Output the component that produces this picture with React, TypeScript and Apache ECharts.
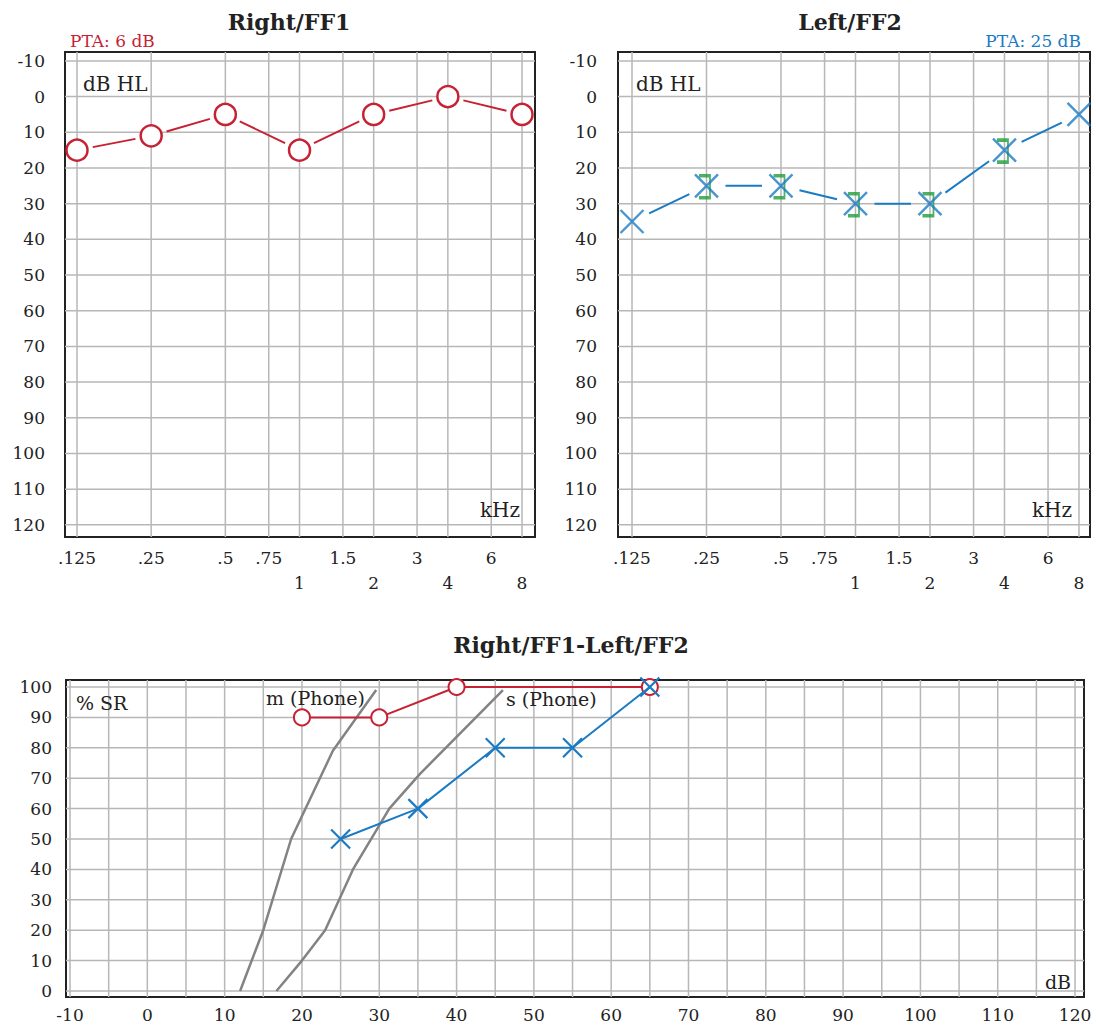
import React, { useEffect, useRef } from 'react';
import * as echarts from 'echarts';

// ---------- data ----------
const freqTicks = [0.125, 0.25, 0.5, 0.75, 1, 1.5, 2, 3, 4, 6, 8];
const freqTickLabels = ['.125', '.25', '.5', '.75', '1', '1.5', '2', '3', '4', '6', '8'];
const lowerRowFreqs = [1, 2, 4, 8];
const dbHLTicks = [-10, 0, 10, 20, 30, 40, 50, 60, 70, 80, 90, 100, 110, 120];

const testFreqs = [0.125, 0.25, 0.5, 1, 2, 4, 8];
const rightThresholds = [15, 11, 5, 15, 5, 0, 5];
const leftThresholds = [35, 25, 25, 30, 30, 15, 5];
const leftMaskFreqs = [0.25, 0.5, 1, 2, 4];
const leftMaskThresholds = [25, 25, 30, 30, 15];

const speechDbTicks = [-10, 0, 10, 20, 30, 40, 50, 60, 70, 80, 90, 100, 110, 120];
const speechDbGrid = [-10, -5, 0, 5, 10, 15, 20, 25, 30, 35, 40, 45, 50, 55, 60, 65, 70, 75, 80, 85, 90, 95, 100, 105, 110, 115, 120];
const speechPctTicks = [0, 10, 20, 30, 40, 50, 60, 70, 80, 90, 100];

const rightSpeechDb = [20, 30, 40, 65];
const rightSpeechPct = [90, 90, 100, 100];
const leftSpeechDb = [25, 35, 45, 55, 65];
const leftSpeechPct = [50, 60, 80, 80, 100];

const mCurveDb = [12, 15, 18.6, 24, 29.6];
const mCurvePct = [0, 20, 50, 79, 99];
const sCurveDb = [16.7, 20, 23, 26.6, 31.3, 35.3, 46];
const sCurvePct = [0, 10, 20, 40, 60, 71.5, 99];

// ---------- styles ----------
const FONT = "'DejaVu Serif', 'Liberation Serif', serif";
const TEXT = '#222';
const RED = '#c62234';
const BLUE = '#1a7bc4';
const GREEN = '#1f9e3c';
const GRAYLINE = '#838383';
const GRID = '#b7b7b7';

const xPath = 'path://M0,0L10,10M10,0L0,10';
const bracketPath = 'path://M0,0L10,0L10,20L0,20';

function hGrid(idx: number, values: number[], xRef: number) {
  return {
    type: 'custom',
    xAxisIndex: idx,
    yAxisIndex: idx,
    z: 1,
    silent: true,
    data: values.map((v) => [xRef, v]),
    renderItem: (params: any, api: any) => {
      const cs = params.coordSys;
      const y = api.coord([xRef, api.value(1)])[1];
      return {
        type: 'line',
        shape: { x1: cs.x, y1: y, x2: cs.x + cs.width, y2: y },
        style: { stroke: GRID, lineWidth: 1.5 },
      };
    },
  };
}

function vGrid(idx: number, values: number[], yRef: number) {
  return {
    type: 'custom',
    xAxisIndex: idx,
    yAxisIndex: idx,
    z: 1,
    silent: true,
    data: values.map((v) => [v, yRef]),
    renderItem: (params: any, api: any) => {
      const cs = params.coordSys;
      const x = api.coord([api.value(0), yRef])[0];
      return {
        type: 'line',
        shape: { x1: x, y1: cs.y, x2: x, y2: cs.y + cs.height },
        style: { stroke: GRID, lineWidth: 1.5 },
      };
    },
  };
}

function gapLine(idx: number, xs: number[], ys: number[], color: string, gap: number) {
  const data: number[][] = [];
  for (let i = 0; i < xs.length - 1; i++) {
    data.push([Math.log2(xs[i]), ys[i], Math.log2(xs[i + 1]), ys[i + 1]]);
  }
  return {
    type: 'custom',
    xAxisIndex: idx,
    yAxisIndex: idx,
    z: 3,
    silent: true,
    data,
    renderItem: (params: any, api: any) => {
      const p1 = api.coord([api.value(0), api.value(1)]);
      const p2 = api.coord([api.value(2), api.value(3)]);
      const dx = p2[0] - p1[0];
      const dy = p2[1] - p1[1];
      const L = Math.sqrt(dx * dx + dy * dy);
      const g = gap / L;
      return {
        type: 'line',
        shape: { x1: p1[0] + dx * g, y1: p1[1] + dy * g, x2: p2[0] - dx * g, y2: p2[1] - dy * g },
        style: { stroke: color, lineWidth: 2 },
      };
    },
  };
}

const topXFormatter = (v: number) => {
  const i = freqTicks.findIndex((f) => Math.abs(Math.log2(f) - v) < 1e-6);
  if (i < 0) return '';
  return lowerRowFreqs.includes(freqTicks[i]) ? '\n' + freqTickLabels[i] : freqTickLabels[i];
};

const tickLabel = (extra: any) => ({
  fontFamily: FONT,
  fontSize: 17,
  color: TEXT,
  ...extra,
});

function txt(text: string, x: number, y: number, size: number, color: string, align: string, bold = false) {
  return {
    type: 'text',
    x,
    y,
    z: 100,
    silent: true,
    style: {
      text,
      font: `${bold ? 'bold ' : ''}${size}px ${FONT}`,
      fill: color,
      textAlign: align,
      align,
      textVerticalAlign: 'middle',
      verticalAlign: 'middle',
    },
  };
}

const gridBox = { show: true, borderColor: '#222', borderWidth: 2, backgroundColor: 'transparent' };

const topXAxis = (idx: number, min: number, max: number) => ({
  gridIndex: idx,
  type: 'value',
  min,
  max,
  axisLine: { show: false },
  axisTick: { show: false },
  splitLine: { show: false },
  axisLabel: tickLabel({
    customValues: freqTicks.map((f) => Math.log2(f)),
    formatter: topXFormatter,
    margin: 8,
    lineHeight: 25,
  }),
});

const topYAxis = (idx: number, margin: number) => ({
  gridIndex: idx,
  type: 'value',
  inverse: true,
  min: -12.5,
  max: 123.4,
  axisLine: { show: false },
  axisTick: { show: false },
  splitLine: { show: false },
  axisLabel: tickLabel({
    customValues: dbHLTicks,
    formatter: (v: number) => String(Math.round(v)),
    margin,
  }),
});

const option: any = {
  animation: false,
  backgroundColor: '#fff',
  grid: [
    { ...gridBox, left: 65, top: 52, width: 470, height: 485 },
    { ...gridBox, left: 618, top: 52, width: 472, height: 485 },
    { ...gridBox, left: 66, top: 680, width: 1018, height: 317 },
  ],
  xAxis: [
    topXAxis(0, -3.162, 3.175),
    topXAxis(1, -3.188, 3.148),
    {
      gridIndex: 2,
      type: 'value',
      min: -10.52,
      max: 121.16,
      axisLine: { show: false },
      axisTick: { show: false },
      splitLine: { show: false },
      axisLabel: tickLabel({
        customValues: speechDbTicks,
        formatter: (v: number) => String(Math.round(v)),
        margin: 8,
        lineHeight: 20,
      }),
    },
  ],
  yAxis: [
    topYAxis(0, 20),
    topYAxis(1, 21),
    {
      gridIndex: 2,
      type: 'value',
      min: -1.97,
      max: 102.3,
      axisLine: { show: false },
      axisTick: { show: false },
      splitLine: { show: false },
      axisLabel: tickLabel({
        customValues: speechPctTicks,
        formatter: (v: number) => String(Math.round(v)),
        margin: 14,
      }),
    },
  ],
  graphic: [
    txt('Right/FF1', 289, 22, 22, TEXT, 'center', true),
    txt('Left/FF2', 850, 22, 22, TEXT, 'center', true),
    txt('Right/FF1-Left/FF2', 571, 645, 22, TEXT, 'center', true),
    txt('PTA: 6 dB', 70, 41, 17, RED, 'left'),
    txt('PTA: 25 dB', 1081, 41, 17, BLUE, 'right'),
    txt('dB HL', 83, 84, 20, TEXT, 'left'),
    txt('dB HL', 636, 84, 20, TEXT, 'left'),
    txt('kHz', 520, 510, 20, TEXT, 'right'),
    txt('kHz', 1072, 510, 20, TEXT, 'right'),
    txt('% SR', 76, 703, 19, TEXT, 'left'),
    txt('m (Phone)', 266, 698, 19, TEXT, 'left'),
    txt('s (Phone)', 506, 699, 19, TEXT, 'left'),
    txt('dB', 1071, 982, 19, TEXT, 'right'),
  ],
  series: [
    // grid lines
    hGrid(0, dbHLTicks, 0),
    vGrid(0, freqTicks.map((f) => Math.log2(f)), 50),
    hGrid(1, dbHLTicks, 0),
    vGrid(1, freqTicks.map((f) => Math.log2(f)), 50),
    hGrid(2, speechPctTicks, 50),
    vGrid(2, speechDbGrid, 50),

    // right ear audiogram
    gapLine(0, testFreqs, rightThresholds, RED, 16),
    {
      type: 'scatter',
      xAxisIndex: 0,
      yAxisIndex: 0,
      z: 4,
      symbol: 'circle',
      symbolSize: 21,
      itemStyle: { color: '#fff', borderColor: RED, borderWidth: 2.5, opacity: 1 },
      data: testFreqs.map((f, i) => [Math.log2(f), rightThresholds[i]]),
    },

    // left ear audiogram
    gapLine(1, testFreqs, leftThresholds, BLUE, 19),
    {
      type: 'scatter',
      xAxisIndex: 1,
      yAxisIndex: 1,
      z: 4,
      symbol: bracketPath,
      symbolSize: [11, 22],
      symbolOffset: [-2, 1],
      itemStyle: { color: 'rgba(0,0,0,0)', borderColor: GREEN, borderWidth: 2.5 },
      data: leftMaskFreqs.map((f, i) => [Math.log2(f), leftMaskThresholds[i]]),
    },
    {
      type: 'scatter',
      xAxisIndex: 1,
      yAxisIndex: 1,
      z: 5,
      symbol: xPath,
      symbolSize: 23,
      itemStyle: { color: 'rgba(0,0,0,0)', borderColor: BLUE, borderWidth: 2.4 },
      data: testFreqs.map((f, i) => [Math.log2(f), leftThresholds[i]]),
    },

    // speech audiometry reference curves
    {
      type: 'line',
      xAxisIndex: 2,
      yAxisIndex: 2,
      z: 2,
      symbol: 'none',
      lineStyle: { color: GRAYLINE, width: 2.5 },
      data: mCurveDb.map((d, i) => [d, mCurvePct[i]]),
    },
    {
      type: 'line',
      xAxisIndex: 2,
      yAxisIndex: 2,
      z: 2,
      symbol: 'none',
      lineStyle: { color: GRAYLINE, width: 2.5 },
      data: sCurveDb.map((d, i) => [d, sCurvePct[i]]),
    },
    {
      type: 'line',
      xAxisIndex: 2,
      yAxisIndex: 2,
      z: 4,
      symbol: 'circle',
      symbolSize: 16,
      showAllSymbol: true,
      lineStyle: { color: RED, width: 2 },
      itemStyle: { color: '#fff', borderColor: RED, borderWidth: 2 },
      data: rightSpeechDb.map((d, i) => [d, rightSpeechPct[i]]),
    },
    {
      type: 'line',
      xAxisIndex: 2,
      yAxisIndex: 2,
      z: 5,
      symbol: xPath,
      symbolSize: 19,
      showAllSymbol: true,
      lineStyle: { color: BLUE, width: 2 },
      itemStyle: { color: 'rgba(0,0,0,0)', borderColor: BLUE, borderWidth: 2.2 },
      data: leftSpeechDb.map((d, i) => [d, leftSpeechPct[i]]),
    },
  ],
};

export default function App() {
  const ref = useRef<HTMLDivElement>(null);
  useEffect(() => {
    if (!ref.current) return;
    const chart = echarts.init(ref.current, null, { renderer: 'svg', width: 1096, height: 1027 });
    chart.setOption(option);
    return () => chart.dispose();
  }, []);
  return (
    <div
      ref={ref}
      style={{ position: 'absolute', left: 0, top: 0, width: 1096, height: 1027, background: '#fff' }}
    />
  );
}
